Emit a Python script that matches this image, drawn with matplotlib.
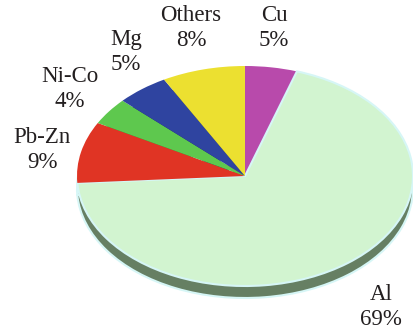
import matplotlib.pyplot as plt

plt.rcParams['font.family'] = ['Liberation Serif', 'DejaVu Serif']

# share of each metal, clockwise from 12 o'clock
metals = ['Cu', 'Al', 'Pb-Zn', 'Ni-Co', 'Mg', 'Others']
shares = [5, 69, 9, 4, 5, 8]
colors = ['#b84aab', '#d2f4d0', '#e03424', '#5ec84e', '#2f44a0', '#ece030']
side_colors = ['#6e2c66', '#667f63', '#8a2016', '#38782f', '#1c2960', '#8e861c']

# label centres in pixels (x, y from top)
label_pos = [(274, 28), (381, 307), (42, 150), (70, 89), (126, 52), (191, 28)]

W, H = 414, 329
cx, cy = 245, 176      # pie centre, pixels
rx, ry = 168, 110      # ellipse half axes, pixels
depth = 12             # thickness of the tilted pie, pixels

fig = plt.figure(figsize=(W / 100, H / 100), dpi=100)
ax = fig.add_axes([0, 0, 1, 1])

# side of the disc: same pie shifted down, drawn first
side, _ = ax.pie(shares, startangle=90, counterclock=False, colors=side_colors,
                 center=(0, -depth / ry), radius=1,
                 wedgeprops=dict(linewidth=1.5, edgecolor='#d6f6f6'))
top, _ = ax.pie(shares, startangle=90, counterclock=False, colors=colors,
                center=(0, 0), radius=1,
                wedgeprops=dict(linewidth=0))
top[1].set_edgecolor('#d6f6f6')
top[1].set_linewidth(1.5)

# squash the unit circle into the ellipse seen in the picture
ax.set_aspect('auto')
ax.set_xlim((0 - cx) / rx, (W - cx) / rx)
ax.set_ylim(-(H - cy) / ry, cy / ry)
ax.axis('off')

for name, val, (x, y) in zip(metals, shares, label_pos):
    fig.text(x / W, 1 - y / H, f'{name}\n{val}%', ha='center', va='center',
             fontsize=16.5, color='#231f20', linespacing=1.25)

fig.savefig('out.png', dpi=100)
